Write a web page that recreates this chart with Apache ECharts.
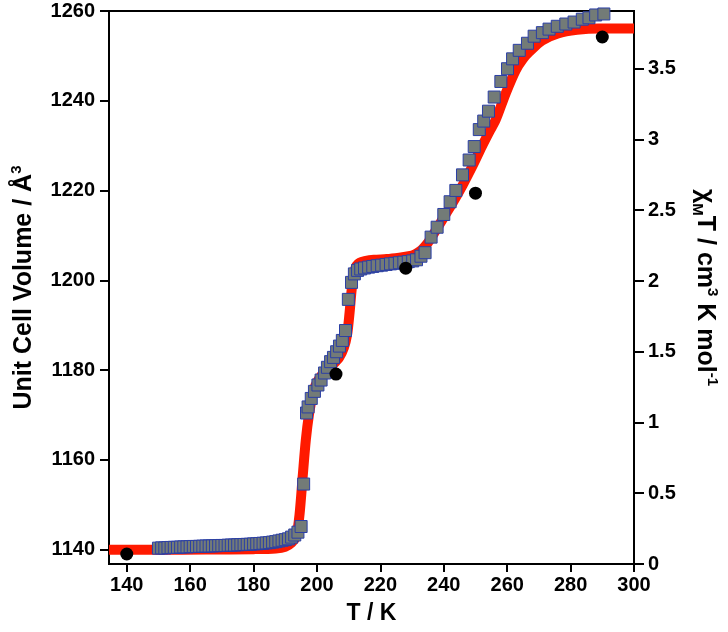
<!DOCTYPE html>
<html>
<head>
<meta charset="utf-8">
<script src="https://cdn.jsdelivr.net/npm/echarts@6/dist/echarts.min.js"></script>
<style>html,body{margin:0;padding:0;background:#fff}#c{width:728px;height:632px}</style>
</head>
<body>
<div id="c"></div>
<script>
// chi_M T data (squares, right axis)
const sqT = [150,151,152,153,154,155,156,157,158,159,160,161,162,163,164,165,166,167,168,169,170,171,172,173,174,175,176,177,178,179,180,181,182,183,184,185,186,187,188,189,190,191,192,193,194,195,195.8,196.7,197.2,198.2,199.2,200.3,201.3,202.4,203.3,204.3,205.2,206.2,207.1,208,209,209.9,210.9,211.8,212.8,213.8,215,216.3,217.6,219,220.4,221.8,223.2,224.6,226,227.4,228.8,230.2,231.4,232.8,234.1,236,237.9,240,242,243.8,245.9,248,249.6,251.2,252.6,254.1,255.9,258,260.1,261.7,263.8,266.4,268.5,271.1,273.2,275.8,278.5,281.1,283.7,285.8,287.9,290.5];
const sqChi = [0.112,0.114,0.113,0.116,0.117,0.118,0.118,0.12,0.121,0.121,0.123,0.124,0.124,0.125,0.126,0.127,0.127,0.128,0.129,0.13,0.131,0.131,0.133,0.134,0.134,0.136,0.137,0.138,0.139,0.14,0.142,0.143,0.145,0.147,0.149,0.151,0.155,0.158,0.163,0.168,0.172,0.178,0.19,0.205,0.225,0.265,0.565,1.067,1.11,1.17,1.22,1.265,1.30,1.35,1.39,1.43,1.46,1.50,1.54,1.58,1.65,1.87,1.99,2.05,2.075,2.085,2.092,2.098,2.103,2.108,2.112,2.117,2.121,2.125,2.129,2.133,2.137,2.142,2.15,2.175,2.20,2.31,2.38,2.47,2.56,2.64,2.75,2.855,2.95,3.07,3.13,3.20,3.30,3.41,3.50,3.57,3.63,3.68,3.73,3.755,3.78,3.80,3.816,3.83,3.85,3.86,3.88,3.887];
// fit curve (red, right axis)
const fitT = [134.4,150,165,180,187,190,192,193.5,194.5,195.5,196.5,197.5,198.5,199.5,201,203,205,207,208.5,209.5,210.3,211,211.8,212.5,213.5,215,218,222,226,229,231,233,235,237,240,243,246,249,252,254.5,256.4,259.6,262.7,265,267,271,276,282,289,300];
const fitChi = [0.10,0.10,0.102,0.105,0.11,0.122,0.15,0.20,0.35,0.62,0.88,1.06,1.18,1.26,1.32,1.37,1.41,1.46,1.53,1.62,1.78,1.95,2.06,2.11,2.13,2.14,2.15,2.155,2.165,2.175,2.19,2.22,2.27,2.34,2.45,2.56,2.68,2.81,2.95,3.06,3.14,3.33,3.49,3.57,3.62,3.70,3.75,3.775,3.785,3.785];
// unit cell volume (black dots, left axis)
const volT = [140,206,228,250,290];
const vol = [1139.0,1179.1,1202.7,1219.4,1254.2];
// tick labels
const xTicks = [140,160,180,200,220,240,260,280,300];
const yLeftTicks = [1140,1160,1180,1200,1220,1240,1260];
const yRightTicks = [0,0.5,1,1.5,2,2.5,3,3.5];

const FONT = '"Liberation Sans", Arial, sans-serif';
const lbl = {fontFamily: FONT, fontWeight: 'bold', fontSize: 20, color: '#000', formatter: v => String(v)};
const axLine = {show: true, lineStyle: {color: '#000', width: 2}};
const tick = (vals, len) => ({show: true, inside: false, length: len, lineStyle: {color: '#000', width: 2}, customValues: vals});
const supStyle = {fontFamily: FONT, fontWeight: 'bold', fontSize: 15, color: '#000', verticalAlign: 'top', lineHeight: 30};
const subStyle = {fontFamily: FONT, fontWeight: 'bold', fontSize: 15, color: '#000', verticalAlign: 'bottom', lineHeight: 30};

const chart = echarts.init(document.getElementById('c'));
chart.setOption({
  animation: false,
  backgroundColor: '#fff',
  grid: {left: 109, right: 93, top: 11, bottom: 68, show: true, borderColor: '#000', borderWidth: 2, backgroundColor: 'transparent'},
  xAxis: {
    type: 'value', min: 134.4, max: 300,
    axisLine: axLine, splitLine: {show: false},
    axisTick: tick(xTicks, 8),
    axisLabel: Object.assign({margin: 11, customValues: xTicks}, lbl),
    name: 'T / K', nameLocation: 'middle', nameGap: 38,
    nameTextStyle: {fontFamily: FONT, fontWeight: 'bold', fontSize: 23, color: '#000'}
  },
  yAxis: [{
    type: 'value', position: 'left', min: 1136.77, max: 1260,
    axisLine: axLine, splitLine: {show: false},
    axisTick: tick(yLeftTicks, 9),
    axisLabel: Object.assign({margin: 14, customValues: yLeftTicks}, lbl),
    name: 'Unit Cell Volume / Å{sup|3}', nameLocation: 'middle', nameGap: 70,
    nameTextStyle: {fontFamily: FONT, fontWeight: 'bold', fontSize: 25, color: '#000', lineHeight: 30,
      rich: {sup: supStyle}}
  }, {
    type: 'value', position: 'right', min: 0, max: 3.908,
    axisLine: axLine, splitLine: {show: false},
    axisTick: tick(yRightTicks, 10),
    axisLabel: Object.assign({margin: 14, customValues: yRightTicks}, lbl),
    name: 'χ{sub|M}T / cm{sup|3} K mol{sup|-1}', nameLocation: 'middle', nameGap: 56, nameRotate: -90,
    nameTextStyle: {fontFamily: FONT, fontWeight: 'bold', fontSize: 25, color: '#000', lineHeight: 30,
      rich: {sup: supStyle, sub: subStyle}}
  }],
  series: [{
    type: 'line', yAxisIndex: 1, data: fitT.map((t, i) => [t, fitChi[i]]),
    showSymbol: false, symbol: 'none', smooth: 0.3,
    lineStyle: {color: '#ff1a00', width: 10}, z: 1
  }, {
    type: 'scatter', yAxisIndex: 1, data: sqT.map((t, i) => [t, sqChi[i]]),
    symbol: 'rect', symbolSize: 12,
    itemStyle: {color: '#737b77', borderColor: '#2b3fa5', borderWidth: 1, opacity: 1}, z: 2
  }, {
    type: 'scatter', yAxisIndex: 0, data: volT.map((t, i) => [t, vol[i]]),
    symbol: 'circle', symbolSize: 13,
    itemStyle: {color: '#000', opacity: 1}, z: 3
  }]
});
</script>
</body>
</html>
